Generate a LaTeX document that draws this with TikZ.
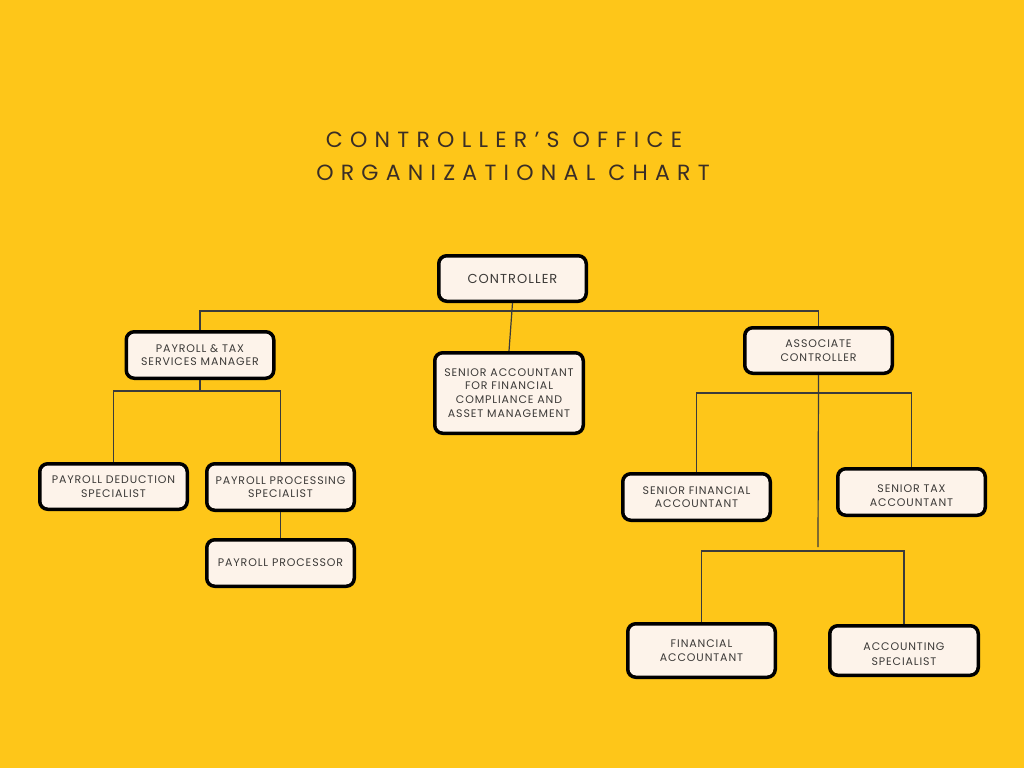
\documentclass[tikz,border=0pt]{standalone}
\usepackage{fontspec}
\setmainfont{Poppins}
\newfontfamily\titlefont[LetterSpace=33]{Poppins}
\newfontfamily\boxfont[LetterSpace=8]{Poppins}
\definecolor{bgyellow}{HTML}{FEC619}
\definecolor{boxfill}{HTML}{FDF3EA}
\definecolor{inkdark}{HTML}{3A2E26}
\definecolor{boxtext}{HTML}{3C3A38}
\definecolor{linecol}{HTML}{3B3B3B}
\tikzset{
  orgbox/.style={draw=black, line width=3.5pt, fill=boxfill, rounded corners=8pt,
    align=center, inner sep=0pt, text=boxtext,
    font=\boxfont\fontsize{11}{13.7}\selectfont},
  conn/.style={draw=linecol, line width=1.2pt},
  titletext/.style={text=inkdark, inner sep=0pt, anchor=base,
    font=\titlefont\fontsize{22}{26}\selectfont}
}
\begin{document}
\begin{tikzpicture}[x=1pt,y=-1pt]
\useasboundingbox (0,0) rectangle (1024,768);
\fill[bgyellow] (0,0) rectangle (1024,768);

\node[titletext] (title1) at (504,147) {CONTROLLER’S OFFICE};
\node[titletext] (title2) at (513,180) {ORGANIZATIONAL CHART};

\node[orgbox, minimum width=147.5pt, minimum height=45.5pt, font=\boxfont\fontsize{13}{15}\selectfont] (ctrl) at (512.5,278.5) {CONTROLLER};
\node[orgbox, minimum width=147.5pt, minimum height=46.5pt] (ptm) at (200,355) {PAYROLL \& TAX\\SERVICES MANAGER};
\node[orgbox, minimum width=148.5pt, minimum height=80.5pt] (sa) at (509,393) {SENIOR ACCOUNTANT\\FOR FINANCIAL\\COMPLIANCE AND\\ASSET MANAGEMENT};
\node[orgbox, minimum width=147.5pt, minimum height=45.5pt] (ac) at (818.5,350.5) {ASSOCIATE\\CONTROLLER};
\node[orgbox, minimum width=147.5pt, minimum height=45.5pt] (pds) at (113.5,486.5) {PAYROLL DEDUCTION\\SPECIALIST};
\node[orgbox, minimum width=147.5pt, minimum height=46.5pt] (pps) at (280.5,487) {PAYROLL PROCESSING\\SPECIALIST};
\node[orgbox, minimum width=147.5pt, minimum height=46.5pt] (pp) at (280.5,563) {PAYROLL PROCESSOR};
\node[orgbox, minimum width=147.5pt, minimum height=46.5pt] (sfa) at (696.5,497) {SENIOR FINANCIAL\\ACCOUNTANT};
\node[orgbox, minimum width=147.5pt, minimum height=46.5pt] (sta) at (911.5,492) {\rule{0pt}{14.5pt}SENIOR TAX\\ACCOUNTANT};
\node[orgbox, minimum width=147.5pt, minimum height=53.5pt] (fa) at (701.5,650.5) {FINANCIAL\\ACCOUNTANT};
\node[orgbox, minimum width=148.5pt, minimum height=49.5pt] (as) at (904,650.5) {\rule{0pt}{14.5pt}ACCOUNTING\\[1pt]SPECIALIST};

\coordinate (bus1) at (512,311);
\coordinate (bus2) at (200,391);
\coordinate (bus3) at (818,393);
\coordinate (acend) at (818,547);
\coordinate (bus4) at (803,551);

\draw[conn] (ctrl.south) -- (sa.north);
\draw[conn] (ptm.north) |- (bus1) -| (ac.north);
\draw[conn] (ptm.south) -- (bus2);
\draw[conn] (pds.north) |- (bus2) -| (pps.north);
\draw[conn] (pps.south) -- (pp.north);
\draw[conn] (ac.south) -- (acend);
\draw[conn] (sfa.north) |- (bus3) -| (sta.north);
\draw[conn] (fa.north) |- (bus4) -| (as.north);
\end{tikzpicture}
\end{document}
